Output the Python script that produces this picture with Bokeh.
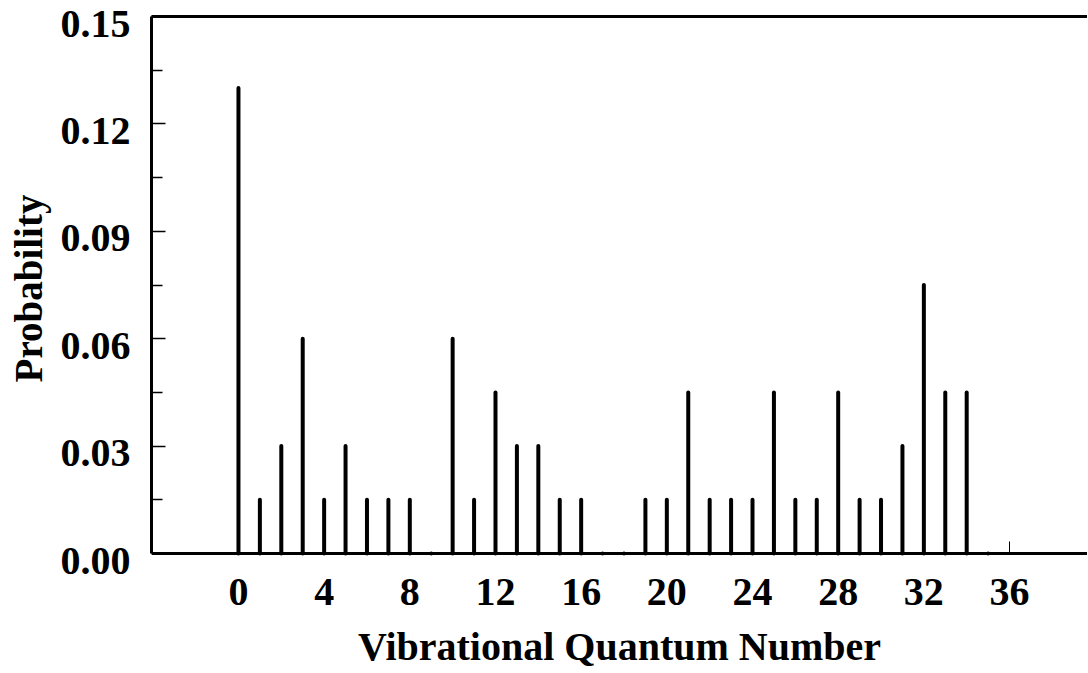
from bokeh.plotting import figure
from bokeh.models import Range1d, LinearAxis, FixedTicker, ColumnDataSource
from bokeh.embed import file_html
from bokeh.resources import INLINE

quantum_number = list(range(36))
probability = [0.13, 0.015, 0.03, 0.06, 0.015, 0.03, 0.015, 0.015, 0.015, 0.0,
               0.06, 0.015, 0.045, 0.03, 0.03, 0.015, 0.015, 0.0, 0.0, 0.015,
               0.015, 0.045, 0.015, 0.015, 0.015, 0.045, 0.015, 0.015, 0.045, 0.015,
               0.015, 0.03, 0.075, 0.045, 0.045, 0.0]
x_ticks = [0, 4, 8, 12, 16, 20, 24, 28, 32, 36]
y_ticks = [0.0, 0.03, 0.06, 0.09, 0.12, 0.15]
y_minor = [0.015, 0.045, 0.075, 0.105, 0.135]
y_labels = {0.0: "0.00", 0.03: "0.03", 0.06: "0.06", 0.09: "0.09", 0.12: "0.12", 0.15: "0.15"}

FONT = "Liberation Serif"
X0, X1 = -4.06, 39.64
Y0, Y1 = 0.0, 0.15
# tick labels of the reference sit 7 px below their ticks; 537 px span 0..0.15
DY = 7 * (Y1 - Y0) / 537

p = figure(width=1087, height=672, output_backend="svg", toolbar_location=None,
           x_range=Range1d(X0, X1), y_range=Range1d(Y0 - DY, Y1),
           min_border_left=151, min_border_right=0, min_border_top=16, min_border_bottom=112)
p.outline_line_color = None
p.grid.visible = False
p.background_fill_color = "white"
p.border_fill_color = "white"
p.extra_y_ranges = {"labels": Range1d(Y0, Y1 + DY)}

src = ColumnDataSource(dict(x=quantum_number, y0=[0] * len(probability), y1=probability))
p.segment(x0="x", y0="y0", x1="x", y1="y1", source=src, line_color="black",
          line_width=4, line_cap="round")

# x axis in the panel: tick labels and title only
xa = p.xaxis[0]
xa.ticker = FixedTicker(ticks=x_ticks)
xa.axis_line_color = None
xa.major_tick_line_color = None
xa.minor_tick_line_color = None
xa.major_label_text_font = FONT
xa.major_label_text_font_style = "bold"
xa.major_label_text_font_size = "40px"
xa.major_label_text_color = "black"
xa.major_label_standoff = 12
xa.axis_label = "Vibrational Quantum Number"
xa.axis_label_text_font = FONT
xa.axis_label_text_font_style = "bold"
xa.axis_label_text_font_size = "40px"
xa.axis_label_text_color = "black"
xa.axis_label_standoff = 16

# x axis line and ticks at y = 0
x_line = LinearAxis(fixed_location=0, ticker=FixedTicker(ticks=x_ticks, minor_ticks=[]),
                    axis_line_width=3, axis_line_color="black",
                    major_tick_in=12, major_tick_out=0, major_tick_line_width=1,
                    major_tick_line_color="black", minor_tick_line_color=None,
                    major_label_text_font_size="0px", major_label_standoff=0,
                    major_label_overrides={t: "" for t in x_ticks})
p.add_layout(x_line, "below")

ya = p.yaxis[0]
ya.bounds = (Y0, Y1)
ya.ticker = FixedTicker(ticks=y_ticks, minor_ticks=y_minor)
ya.axis_line_width = 3
ya.axis_line_color = "black"
ya.major_tick_in = 14
ya.major_tick_out = 0
ya.minor_tick_in = 11
ya.minor_tick_out = 0
ya.major_tick_line_width = 1.5
ya.minor_tick_line_width = 1.5
ya.major_tick_line_color = "black"
ya.minor_tick_line_color = "black"
ya.major_label_text_font_size = "0px"
ya.major_label_standoff = 0
ya.major_label_overrides = {t: "" for t in y_ticks}

# label-only axis: its range is shifted so each label sits a little below its tick
lab_axis = LinearAxis(y_range_name="labels", ticker=FixedTicker(ticks=y_ticks, minor_ticks=[]),
                      major_label_overrides=y_labels,
                      axis_line_color=None, major_tick_line_color=None, minor_tick_line_color=None,
                      major_label_text_font=FONT, major_label_text_font_style="bold",
                      major_label_text_font_size="40px", major_label_text_color="black",
                      major_label_standoff=15,
                      axis_label="Probability", axis_label_text_font=FONT,
                      axis_label_text_font_style="bold", axis_label_text_font_size="39px",
                      axis_label_text_color="black", axis_label_standoff=8)
p.add_layout(lab_axis, "left")

top = LinearAxis(major_tick_line_color=None, minor_tick_line_color=None,
                 major_label_text_font_size="0px", axis_line_width=3, axis_line_color="black")
top.ticker = FixedTicker(ticks=[])
p.add_layout(top, "above")

open("out.html", "w").write(file_html(p, INLINE))
